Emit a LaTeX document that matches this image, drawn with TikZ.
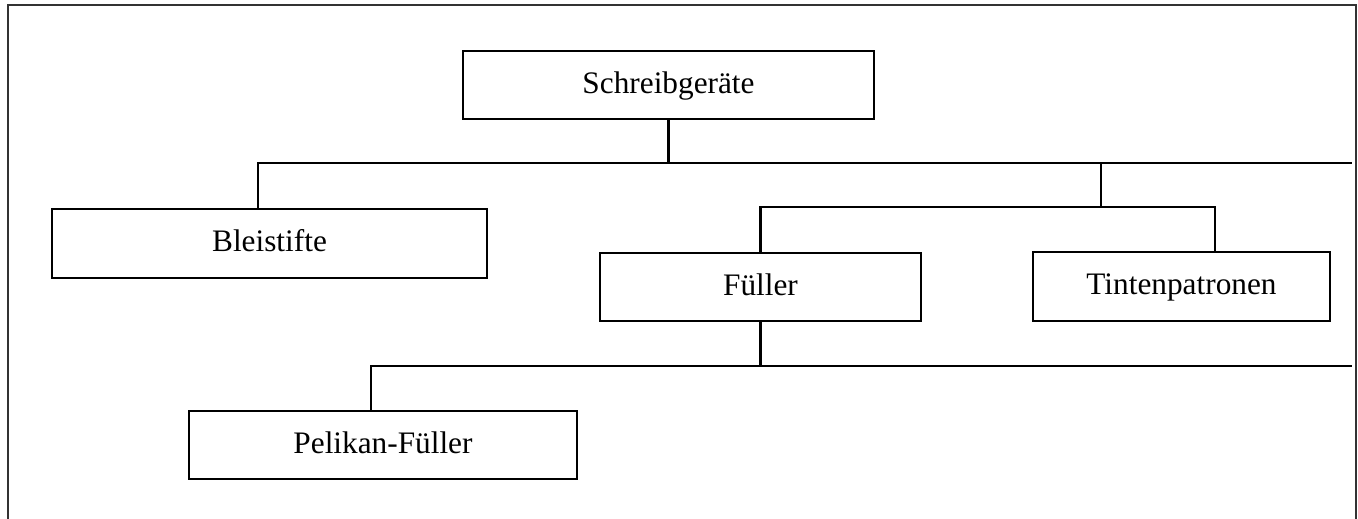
\documentclass[tikz,border=0pt]{standalone}
\usepackage{fontspec}
\setmainfont{Liberation Serif}
\usetikzlibrary{positioning, calc}

\begin{document}
\begin{tikzpicture}[
  x=0.01cm, y=-0.01cm,
  box/.style={rectangle, draw=black, line width=0.6pt, inner sep=0pt,
    minimum height=0.68cm, text height=0.68em, text depth=0.2em,
    text centered, font=\fontsize{8.9}{10}\selectfont},
  link/.style={draw=black, line width=0.6pt},
  frame/.style={draw=black!80, line width=0.6pt}
]

\useasboundingbox (0,0) rectangle (1358,519);
\draw [frame] (8,519) -- (8,5) -- (1356,5) -- (1356,519);

\node (schreib) [box, minimum width=4.11cm] at (668.5,85) {Schreibgeräte};
\node (blei) [box, minimum width=4.35cm, minimum height=0.69cm] at (269.5,243.5) {Bleistifte};
\node (fueller) [box, minimum width=3.21cm] at (760.5,287) {Füller};
\node (tinte) [box, minimum width=2.97cm, minimum height=0.69cm] at (1181.5,286.5) {Tintenpatronen};
\node (pelikan) [box, minimum width=3.88cm] at (383,445) {Pelikan-Füller};

% Verbindungen
\coordinate (bus1) at (1352,163);
\coordinate (fork) at (1101,207);
\coordinate (bus2) at (1352,366);

\draw [link] (blei.north -| 258,0) |- (bus1);
\draw [link] (schreib.south) -- (schreib.south |- bus1);
\draw [link] (fork) -- (fork |- bus1);
\draw [link] (fueller.north) |- (fork) -| (tinte.north -| 1215,0);
\draw [link] (pelikan.north -| 371,0) |- (bus2);
\draw [link] (fueller.south) -- (fueller.south |- bus2);

\end{tikzpicture}
\end{document}
